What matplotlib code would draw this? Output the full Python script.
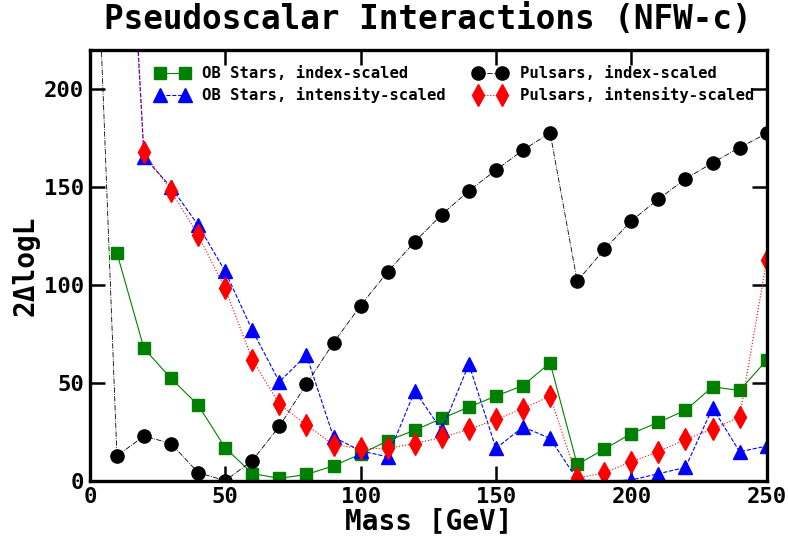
import numpy as np
import matplotlib
matplotlib.use("Agg")
import matplotlib.pyplot as plt

plt.rcParams['font.family'] = ['DejaVu Sans Mono']
plt.rcParams['font.weight'] = 'bold'

# Mass grid in GeV
mass = np.arange(10, 260, 10)

# OB stars, index-scaled
ob_index = [116.5, 67.7, 52.4, 38.8, 17.0, 3.9, 1.4, 3.4, 7.8, 13.8,
            20.6, 26.0, 32.0, 37.8, 43.4, 48.8, 60.4, 8.5, 16.3, 24.3,
            30.0, 36.2, 48.1, 46.3, 61.7]

# OB stars, intensity-scaled (first point lies far above the plotted range)
ob_int = [420.0, 165.3, 150.0, 130.6, 107.0, 77.0, 50.7, 64.3, 22.5, 15.5,
          12.4, 46.0, 26.0, 59.7, 16.7, 27.7, 21.8, 0.8, 0.0, 0.6,
          3.8, 7.0, 37.4, 15.0, 17.9]

# Pulsars, index-scaled (extra low-mass point off the top of the axes)
psr_mass = np.concatenate([[2], mass])
psr_index = [303.0, 12.9, 23.0, 19.2, 4.3, 0.3, 10.4, 28.0, 49.5, 70.6, 89.6,
             106.8, 122.1, 136.0, 148.1, 158.7, 168.9, 177.7, 102.0, 118.2,
             132.8, 143.9, 154.2, 162.4, 170.2, 177.4]

# Pulsars, intensity-scaled
psr_int = [400.0, 168.0, 148.0, 125.5, 98.3, 62.0, 39.3, 28.6, 18.6, 16.7,
           16.7, 19.2, 22.3, 26.4, 31.5, 37.0, 43.4, 1.4, 4.3, 9.9,
           15.0, 21.3, 26.5, 32.8, 113.0]

fig = plt.figure(figsize=(7.88, 5.37), dpi=100)
ax = fig.add_axes([0.114, 0.104, 0.859, 0.803])

ax.plot(mass, ob_index, color='green', ls='-', lw=0.8, marker='s', ms=9,
        label='OB Stars, index-scaled')
ax.plot(mass, ob_int, color='blue', ls='--', lw=0.8, marker='^', ms=10,
        label='OB Stars, intensity-scaled')
ax.plot(psr_mass, psr_index, color='black', ls='-.', lw=0.6, marker='o', ms=9.5,
        label='Pulsars, index-scaled')
ax.plot(mass, psr_int, color='red', ls=':', lw=0.8, marker='d', ms=11,
        label='Pulsars, intensity-scaled')

ax.set_xlim(0, 250)
ax.set_ylim(0, 220)
ax.set_xticks([0, 50, 100, 150, 200, 250])
ax.set_yticks([0, 50, 100, 150, 200])

for s in ax.spines.values():
    s.set_linewidth(2.4)
ax.tick_params(which='major', direction='in', length=11, width=1.8,
               top=True, right=True, labelsize=16, pad=4)

ax.set_xlabel('Mass [GeV]', fontsize=20, fontweight='bold', labelpad=0)
ax.set_ylabel('2\u0394logL', fontsize=20, fontweight='bold', labelpad=3)
ax.set_title('Pseudoscalar Interactions (NFW-c)', fontsize=23.5,
             fontweight='bold', pad=15)

ax.legend(loc='upper left', bbox_to_anchor=(0.076, 0.995), ncol=2,
          frameon=False, numpoints=2, handlelength=2.2, columnspacing=1.75,
          labelspacing=0.4, prop={'size': 11.2, 'weight': 'bold'})

fig.savefig('out.png', dpi=100)
